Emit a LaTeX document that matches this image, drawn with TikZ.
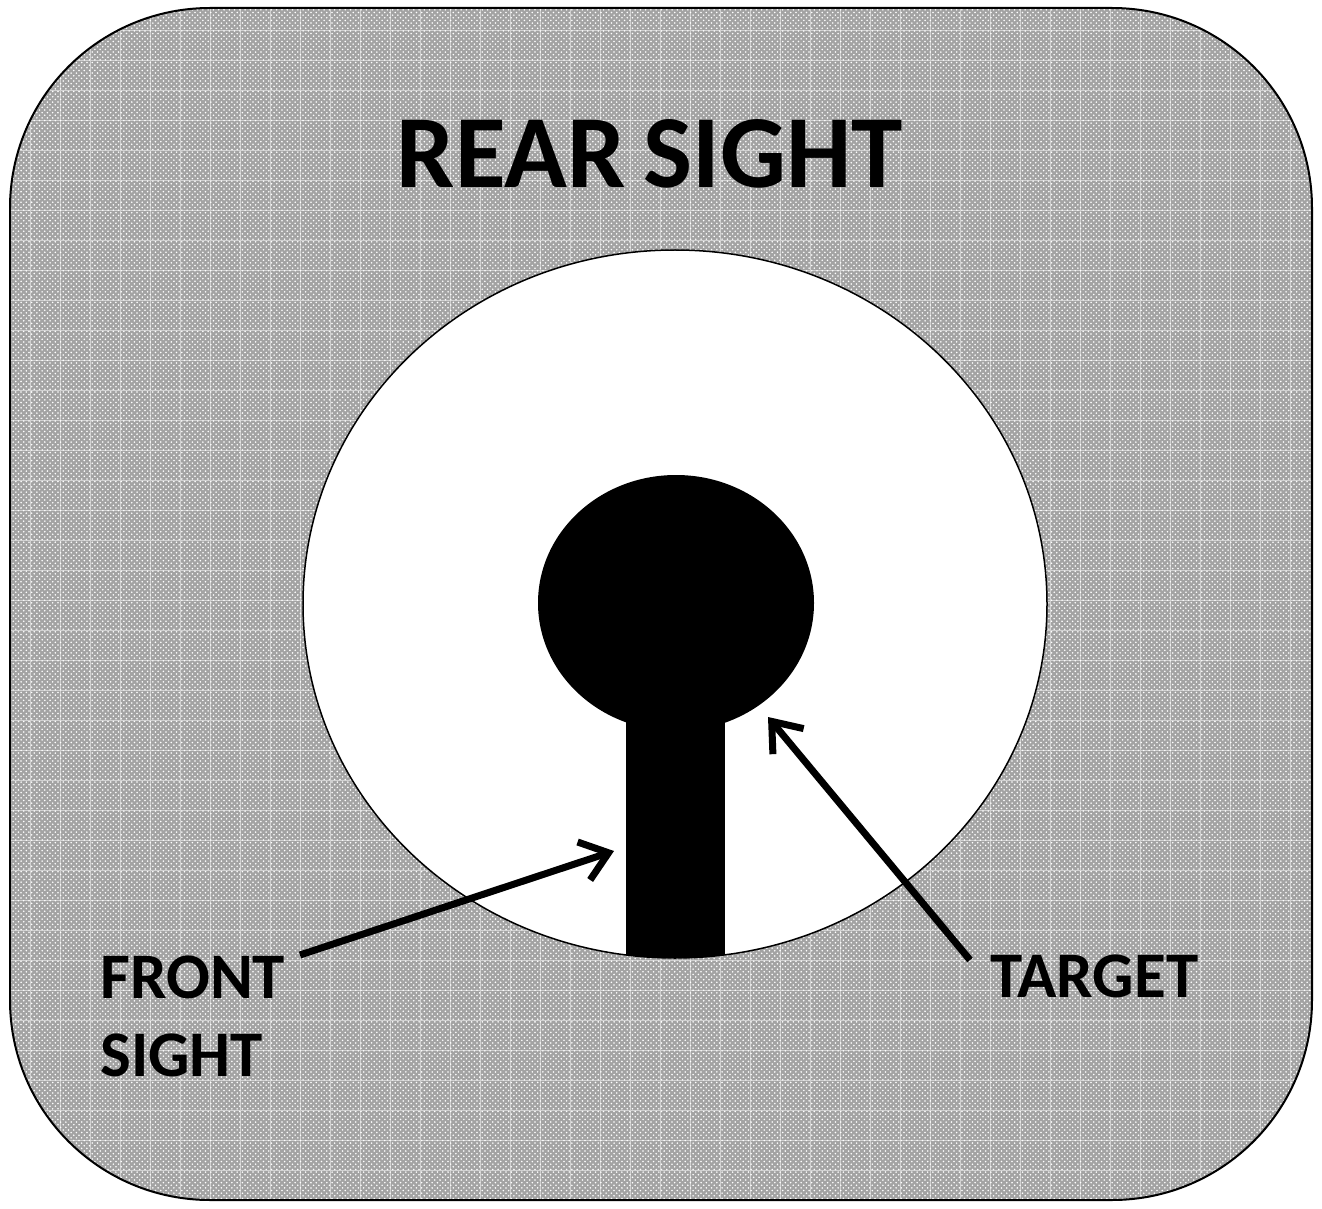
\documentclass[tikz,border=0pt]{standalone}
\usepackage{fontspec}
\setmainfont{Carlito}
\usetikzlibrary{patterns,arrows.meta}

\begin{document}
\begin{tikzpicture}[x=0.02cm, y=-0.02cm,
  lbl/.style={font=\bfseries\fontsize{37}{44}\selectfont, inner sep=0pt, anchor=north west},
  pointer/.style={line width=0.14cm, -{Straight Barb[length=0.52cm, width=0.8cm]}}]
\useasboundingbox (0,0) rectangle (1322,1209);

% rear sight plate
\fill[black!36, rounded corners=4cm] (10,8) rectangle (1312,1200);
\begin{scope}
\clip[rounded corners=4cm] (10,8) rectangle (1312,1200);
\fill[pattern=crosshatch dots, pattern color=white] (10,8) rectangle (1312,1200);
\draw[white, opacity=0.5, line width=0.3pt, step=0.6cm] (10,8) grid (1312,1200);
\end{scope}
\draw[line width=0.04cm, rounded corners=4cm] (10,8) rectangle (1312,1200);

% aperture
\fill[white] (675,604) ellipse [x radius=372, y radius=354];
\begin{scope}
\clip (675,604) ellipse [x radius=372, y radius=354];
\fill[black] (626,700) rectangle (725,1000);
\end{scope}
\draw[line width=0.03cm] (675,604) ellipse [x radius=372, y radius=354];
\fill[black] (676,603) ellipse [x radius=138, y radius=128];

\node[lbl, anchor=center, font=\bfseries\fontsize{59}{70}\selectfont] (title) at (650,154) {REAR\kern-0.05em\ SIGHT};
\node[lbl, align=left] (front) at (100,956) {FRONT\\SIGHT};
\node[lbl] (target) at (990,955) {TARGET};

\coordinate (fstail) at (300,955);
\coordinate (fstip) at (614,851);
\coordinate (tgtail) at (970,960);
\coordinate (tgtip) at (768,717);
\draw[pointer] (fstail) -- (fstip);
\draw[pointer] (tgtail) -- (tgtip);
\end{tikzpicture}
\end{document}
